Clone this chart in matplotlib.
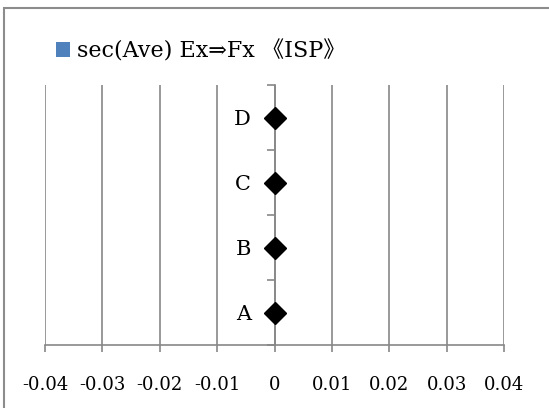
import matplotlib.pyplot as plt
from matplotlib.patches import Rectangle

categories = ['A', 'B', 'C', 'D']
sec_ave = [0.0, 0.0, 0.0, 0.0]
points = [0.0, 0.0, 0.0, 0.0]
xticks = [-0.04, -0.03, -0.02, -0.01, 0, 0.01, 0.02, 0.03, 0.04]
xlabels = ['-0.04', '-0.03', '-0.02', '-0.01', '0', '0.01', '0.02', '0.03', '0.04']
series_name = 'sec(Ave) Ex\u21d2Fx \u300aISP\u300b'

fonts = ['DejaVu Serif', 'Noto Sans CJK JP']
plt.rcParams['font.family'] = fonts
grey = '#878787'

fig = plt.figure(figsize=(5.49, 4.08), dpi=100)
ax = fig.add_axes([45 / 549, 1 - 345 / 408, 459 / 549, 260 / 408])

ypos = [i + 0.5 for i in range(len(categories))]
bars = ax.barh(ypos, sec_ave, height=0.6, color='#4f81bd', label=series_name)
ax.plot(points, ypos, linestyle='none', marker='D', markersize=11.5,
        color='black', clip_on=False, zorder=5)

ax.set_xlim(-0.04, 0.04)
ax.set_ylim(0, 4)
ax.set_xticks(xticks)
ax.set_xticklabels(xlabels, fontsize=13)
ax.grid(axis='x', color=grey, linewidth=1.2)
ax.set_axisbelow(True)

# category axis sits on x = 0
ax.spines['left'].set_position(('data', 0))
ax.spines['left'].set_color(grey)
ax.spines['bottom'].set_color(grey)
ax.spines['left'].set_linewidth(1.2)
ax.spines['bottom'].set_linewidth(1.2)
ax.spines['top'].set_visible(False)
ax.spines['right'].set_visible(False)

ax.set_yticks([0, 1, 2, 3, 4])
ax.set_yticklabels([])
ax.set_yticks(ypos, minor=True)
ax.set_yticklabels(categories, minor=True, fontsize=15)
ax.tick_params(axis='y', which='major', direction='out', length=6, color=grey, width=1.2)
ax.tick_params(axis='y', which='minor', length=0, pad=17)
ax.tick_params(axis='x', direction='out', length=5, color=grey, width=1.2, pad=17)

ax.legend(handles=[bars], labels=[series_name], loc='upper left',
          bbox_to_anchor=(56 / 549, 1 - 40 / 408), bbox_transform=fig.transFigure,
          frameon=False, borderpad=0, borderaxespad=0, fontsize=16,
          handlelength=0.65, handleheight=0.65, handletextpad=0.3)

# chart frame
fig.patches.append(Rectangle((4 / 549, -0.1), 1.2, 1.1 - 8 / 408,
                             transform=fig.transFigure, fill=False,
                             edgecolor='#8c8c8c', linewidth=1.5))

fig.savefig('out.png', dpi=100)
